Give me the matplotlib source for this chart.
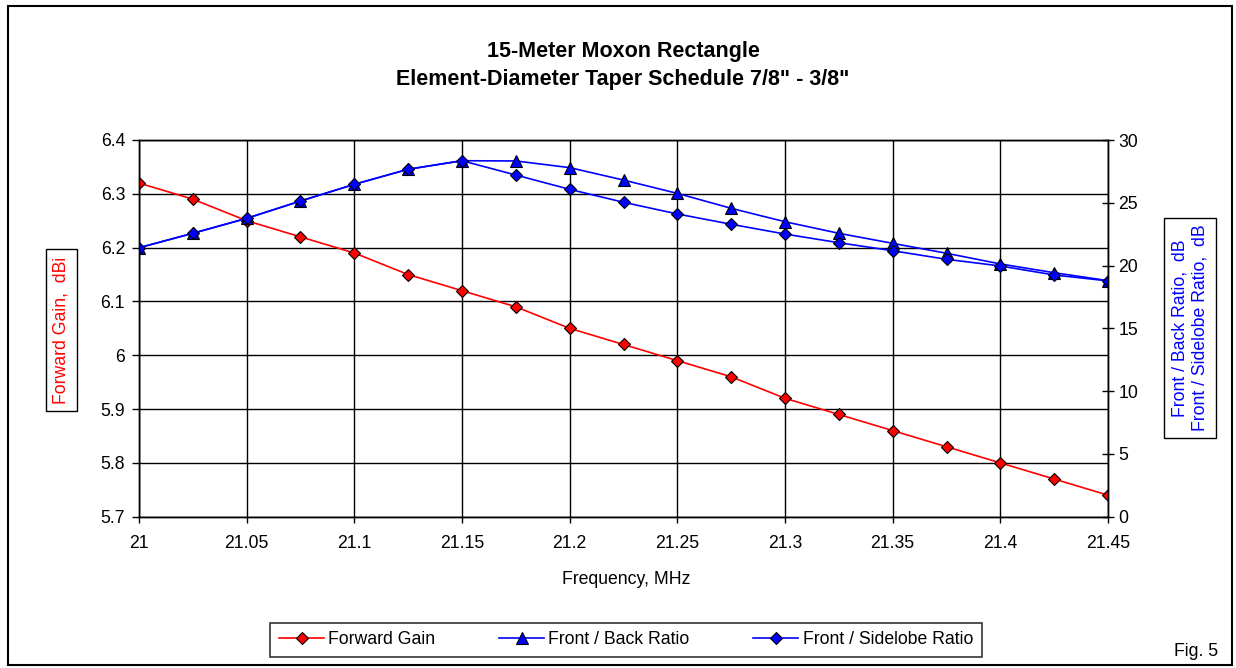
import numpy as np
import matplotlib
matplotlib.use('Agg')
import matplotlib.pyplot as plt
from matplotlib.lines import Line2D
from matplotlib.patches import Rectangle

plt.rcParams['font.family'] = ['Liberation Sans', 'DejaVu Sans']

freq = [21.0, 21.025, 21.05, 21.075, 21.1, 21.125, 21.15, 21.175, 21.2, 21.225,
        21.25, 21.275, 21.3, 21.325, 21.35, 21.375, 21.4, 21.425, 21.45]
gain = [6.32, 6.29, 6.25, 6.22, 6.19, 6.15, 6.12, 6.09, 6.05, 6.02,
        5.99, 5.96, 5.92, 5.89, 5.86, 5.83, 5.80, 5.77, 5.74]
front_back = [21.42, 22.57, 23.76, 25.14, 26.47, 27.67, 28.35, 28.33, 27.80, 26.81,
              25.75, 24.56, 23.49, 22.57, 21.77, 20.98, 20.13, 19.43, 18.80]
front_side = [21.42, 22.57, 23.76, 25.14, 26.47, 27.67, 28.35, 27.21, 26.07, 25.04,
              24.11, 23.29, 22.51, 21.82, 21.18, 20.50, 19.97, 19.25, 18.78]

x_ticks = [21, 21.05, 21.1, 21.15, 21.2, 21.25, 21.3, 21.35, 21.4, 21.45]
gain_ticks = [5.7, 5.8, 5.9, 6.0, 6.1, 6.2, 6.3, 6.4]
ratio_ticks = [0, 5, 10, 15, 20, 25, 30]

FS = 12.7
W, H = 1236, 668
fig = plt.figure(figsize=(W / 100, H / 100), dpi=100)
fig.patch.set_facecolor('white')

# outer chart border
fig.patches.append(Rectangle((8 / W, 3 / H), 1224 / W, 659 / H, transform=fig.transFigure,
                             fill=False, edgecolor='black', lw=1.5))

ax = fig.add_axes([139 / W, 1 - 516.7 / H, 969 / W, 376.7 / H])
ax2 = ax.twinx()

ax.set_xlim(21, 21.45)
ax.set_ylim(5.7, 6.4)
ax2.set_ylim(0, 30)

ax.set_xticks(x_ticks)
ax.set_xticklabels(['%g' % t for t in x_ticks])
ax.set_yticks(gain_ticks)
ax.set_yticklabels(['%g' % t for t in gain_ticks])
ax2.set_yticks(ratio_ticks)

ax.grid(True, color='black', lw=1)
ax.set_axisbelow(True)
for a in (ax, ax2):
    for s in a.spines.values():
        s.set_color('black')
        s.set_linewidth(1)

ax.tick_params(axis='y', direction='out', length=5, width=1, labelsize=FS, pad=5)
ax.tick_params(axis='x', direction='out', length=4, width=1, labelsize=FS, pad=9)
ax2.tick_params(axis='y', direction='inout', length=9, width=1, labelsize=FS, pad=3)

ax.plot(freq, gain, color='red', lw=1.2, marker='D', ms=6.5, mfc='red', mec='black', mew=0.8,
        zorder=3)
ax2.plot(freq, front_back, color='blue', lw=1.2, marker='^', ms=8, mfc='blue', mec='black',
         mew=0.8)
ax2.plot(freq, front_side, color='blue', lw=1.2, marker='D', ms=6.5, mfc='blue', mec='black',
         mew=0.8)

fig.text(0.504, 1 - 51 / H, '15-Meter Moxon Rectangle', ha='center', va='center',
         fontsize=15.5, fontweight='bold')
fig.text(0.504, 1 - 79 / H, 'Element-Diameter Taper Schedule 7/8" - 3/8"', ha='center',
         va='center', fontsize=15.5, fontweight='bold')

fig.text(626 / W, 1 - 580 / H, 'Frequency, MHz', ha='center', va='center', fontsize=FS)

box = dict(boxstyle='square,pad=0.4', facecolor='white', edgecolor='black', lw=1)
fig.text(61.5 / W, 1 - 330 / H, 'Forward Gain,  dBi', rotation=90, ha='center', va='center',
         fontsize=FS, color='red', bbox=box)
fig.text(1190 / W, 1 - 328 / H, 'Front / Back Ratio,  dB\nFront / Sidelobe Ratio,  dB',
         rotation=90, ha='center', va='center', fontsize=FS, color='blue',
         linespacing=1.3, bbox=box)

handles = [
    Line2D([], [], color='red', lw=1.2, marker='D', ms=6.5, mfc='red', mec='black', mew=0.8),
    Line2D([], [], color='blue', lw=1.2, marker='^', ms=8, mfc='blue', mec='black', mew=0.8),
    Line2D([], [], color='blue', lw=1.2, marker='D', ms=6.5, mfc='blue', mec='black', mew=0.8),
]
labels = ['Forward Gain', 'Front / Back Ratio', 'Front / Sidelobe Ratio']
leg = fig.legend(handles, labels, loc='center', bbox_to_anchor=(626 / W, 1 - 640 / H),
                 ncol=3, fontsize=FS, frameon=True, fancybox=False, shadow=False,
                 handlelength=2.55, handletextpad=0.25, columnspacing=3.6, borderpad=0.5,
                 numpoints=1)
leg.get_frame().set_edgecolor('black')
leg.get_frame().set_linewidth(1.2)

fig.text(1196 / W, 1 - 652 / H, 'Fig. 5', ha='center', va='center', fontsize=FS)

fig.savefig('out.png', dpi=100, facecolor='white')
